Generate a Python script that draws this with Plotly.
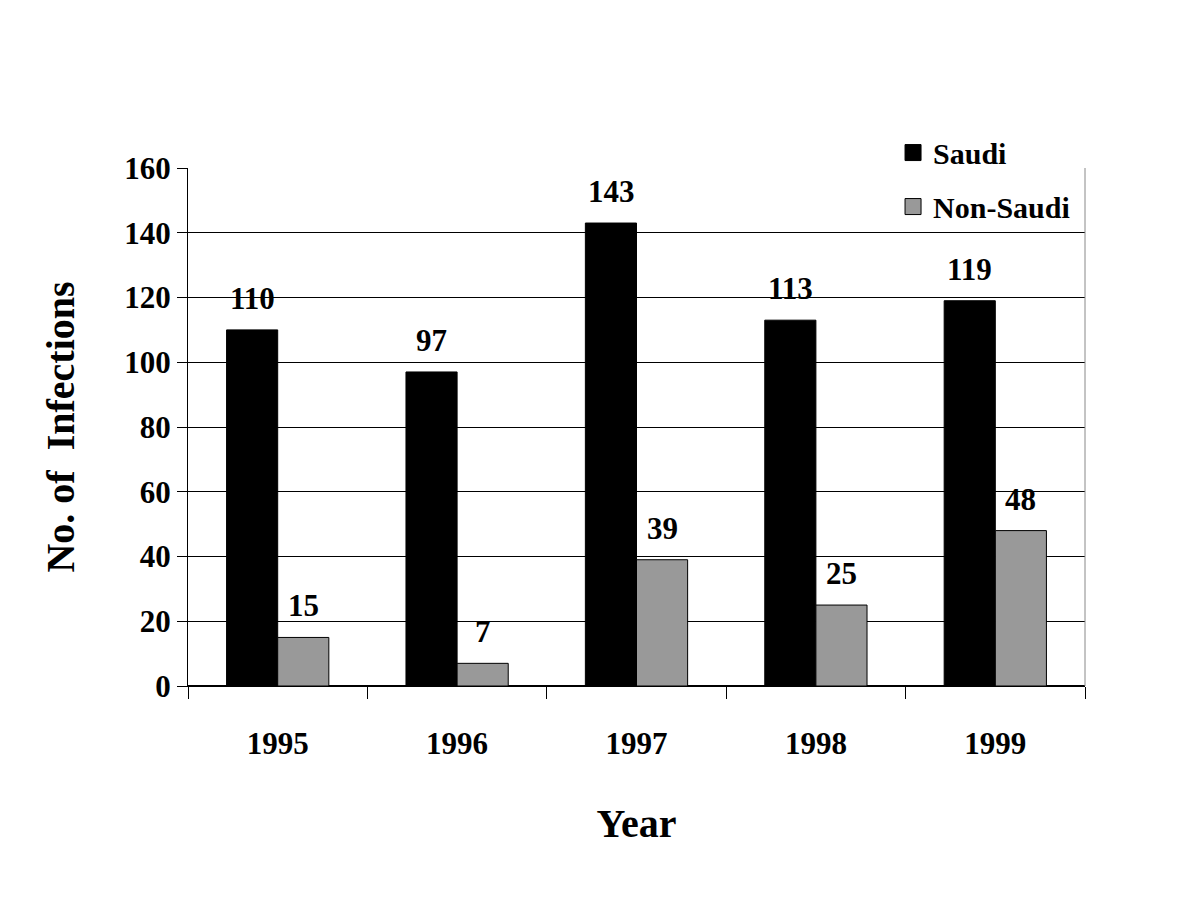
import plotly.graph_objects as go

years = ["1995", "1996", "1997", "1998", "1999"]
saudi = [110, 97, 143, 113, 119]
non_saudi = [15, 7, 39, 25, 48]

FONT = "Liberation Serif"
BLACK = "#000000"
GRAY = "#999999"

fig = go.Figure()
fig.add_trace(go.Bar(x=years, y=saudi, name="Saudi", marker=dict(color=BLACK, line=dict(color=BLACK, width=1)), showlegend=False))
fig.add_trace(go.Bar(x=years, y=non_saudi, name="Non-Saudi", marker=dict(color=GRAY, line=dict(color=BLACK, width=1)), showlegend=False))

# legend proxies
fig.add_trace(go.Scatter(x=[years[0]], y=[None], mode="markers", name="Saudi", legendgroup="a",
                         marker=dict(symbol="square", size=16, color=BLACK, line=dict(color=BLACK, width=1))))
fig.add_trace(go.Scatter(x=[years[0]], y=[None], mode="markers", name="Non-Saudi", legendgroup="b",
                         marker=dict(symbol="square", size=16, color=GRAY, line=dict(color=BLACK, width=1))))

annots = []
for i, v in enumerate(saudi):
    annots.append(dict(x=i, y=v, text=str(v), showarrow=False, xshift=-25.5, yshift=12,
                       yanchor="bottom", font=dict(family=FONT, size=31, color=BLACK, weight="bold")))
for i, v in enumerate(non_saudi):
    annots.append(dict(x=i, y=v, text=str(v), showarrow=False, xshift=25.5, yshift=12,
                       yanchor="bottom", font=dict(family=FONT, size=31, color=BLACK, weight="bold")))

fig.update_layout(
    width=1200, height=900,
    paper_bgcolor="white", plot_bgcolor="white",
    margin=dict(l=180, r=123, t=160, b=222),
    barmode="group", bargap=0.43, bargroupgap=0,
    font=dict(family=FONT, color=BLACK, size=31, weight="bold"),
    annotations=annots,
    legend=dict(x=0.786, y=1.08, xanchor="left", yanchor="top", bgcolor="rgba(255,255,255,0)",
                font=dict(family=FONT, size=30, color=BLACK, weight="bold"),
                tracegroupgap=12, traceorder="grouped", itemsizing="trace"),
    xaxis=dict(type="category", categoryorder="array", categoryarray=years, range=[-0.5, 4.5],
               showgrid=False, showline=True, linecolor=BLACK, linewidth=1,
               ticks="outside", tickson="boundaries", ticklen=12, tickcolor=BLACK, tickangle=0,
               ticklabelstandoff=30,
               tickfont=dict(family=FONT, size=31, weight="bold"), automargin=False,
               title=dict(text="Year", font=dict(family=FONT, size=40, weight="bold"), standoff=48)),
    yaxis=dict(range=[0, 160], dtick=20, showgrid=True, gridcolor=BLACK, gridwidth=1,
               showline=True, linecolor=BLACK, linewidth=1, zeroline=True, zerolinecolor=BLACK,
               ticks="outside", ticklen=10, tickcolor=BLACK, automargin=False,
               tickfont=dict(family=FONT, size=31, weight="bold"),
               title=dict(text="No. of\u00a0 Infections\u00a0", font=dict(family=FONT, size=40, weight="bold"), standoff=37)),
    shapes=[
        dict(type="rect", xref="paper", yref="paper", x0=0.786, x1=1.0, y0=0.985, y1=1.08,
             fillcolor="white", line=dict(width=0), layer="above"),
        dict(type="line", xref="paper", yref="paper", x0=1, x1=1, y0=0, y1=1,
             line=dict(color="#888888", width=1)),
    ],
)

fig.write_html("out.html")
